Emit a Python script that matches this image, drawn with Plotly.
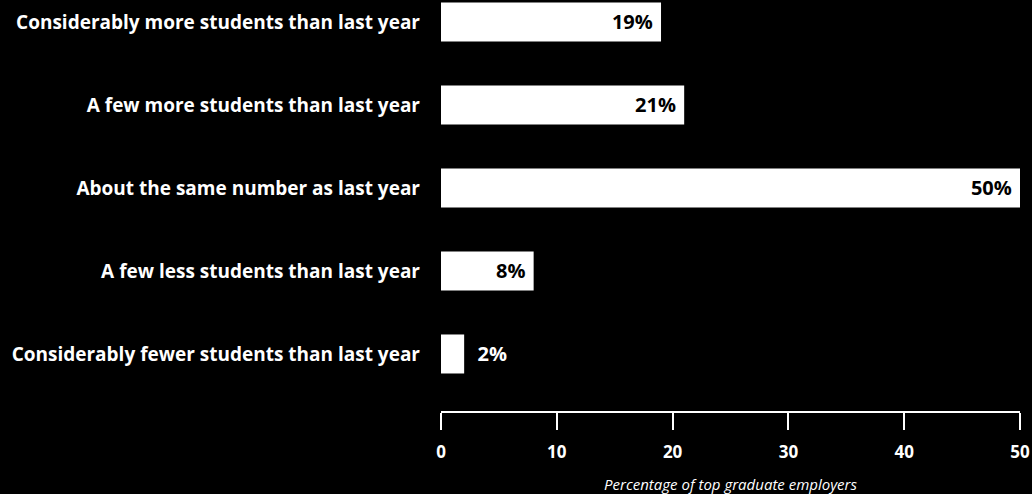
import plotly.graph_objects as go

categories = [
    "Considerably more students than last year",
    "A few more students than last year",
    "About the same number as last year",
    "A few less students than last year",
    "Considerably fewer students than last year",
]
values = [19, 21, 50, 8, 2]
text_positions = ["inside", "inside", "inside", "inside", "outside"]
tick_vals = [0, 10, 20, 30, 40, 50]

cats_bottom_up = categories[::-1]
vals_bottom_up = values[::-1]
pos_bottom_up = text_positions[::-1]
templates = ["  %{x}%" if p == "outside" else "%{x}% " for p in pos_bottom_up]

FONT = "Open Sans"

fig = go.Figure(go.Bar(
    x=vals_bottom_up,
    y=cats_bottom_up,
    orientation="h",
    marker=dict(color="white", line=dict(width=0)),
    width=0.47,
    texttemplate=templates,
    textposition=pos_bottom_up,
    insidetextanchor="end",
    insidetextfont=dict(color="black", size=20, family=FONT, weight="bold"),
    outsidetextfont=dict(color="white", size=20, family=FONT, weight="bold"),
    textangle=0,
    cliponaxis=False,
    hoverinfo="skip",
))

fig.update_layout(
    width=1032, height=494,
    paper_bgcolor="black", plot_bgcolor="black",
    margin=dict(l=441, r=12, t=0, b=83),
    showlegend=False,
    font=dict(family=FONT, color="white"),
    uniformtext=dict(mode=False),
)
fig.update_xaxes(
    range=[0, 50],
    tickvals=tick_vals,
    showgrid=False, zeroline=False,
    showline=True, linecolor="white", linewidth=2,
    ticks="outside", tickcolor="white", ticklen=17, tickwidth=2,
    ticklabelstandoff=8,
    tickfont=dict(size=17, color="white", family=FONT, weight="bold"),
    title=dict(text="<i>Percentage of top graduate employers</i>",
               font=dict(size=15, color="white", family=FONT), standoff=18),
)
fig.update_yaxes(
    categoryorder="array", categoryarray=cats_bottom_up,
    range=[-0.687, 4.265],
    showgrid=False, zeroline=False, showline=False,
    ticks="", ticklabelstandoff=20,
    tickfont=dict(size=19, color="white", family=FONT, weight="bold"),
)

fig.write_html(
    "out.html",
    config={"displayModeBar": False},
    post_script="document.body.style.margin='0';document.body.style.background='black';",
)
